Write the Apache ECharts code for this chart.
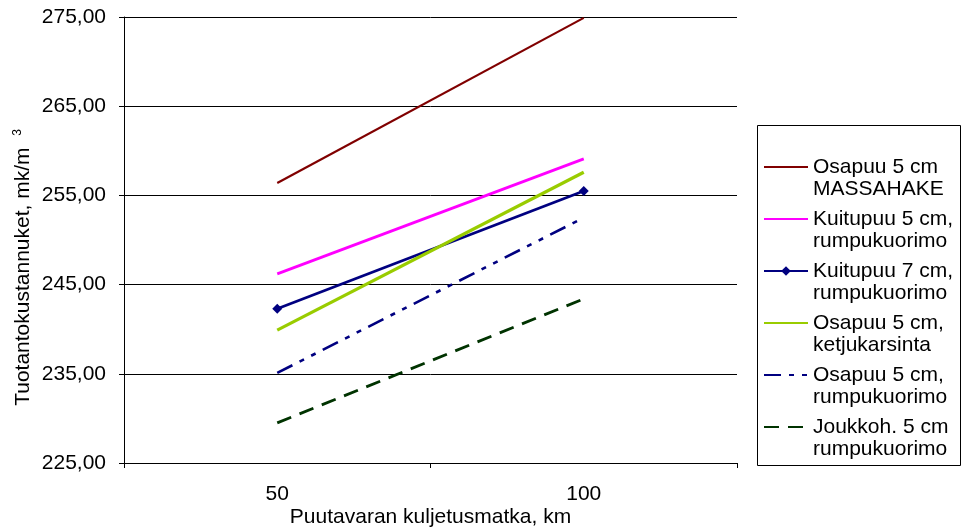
<!DOCTYPE html>
<html>
<head>
<meta charset="utf-8">
<script src="https://cdn.jsdelivr.net/npm/echarts@6/dist/echarts.min.js"></script>
<style>html,body{margin:0;padding:0;background:#fff;}#c{width:963px;height:529px;}</style>
</head>
<body>
<div id="c"></div>
<script>
var categories = ['50', '100'];
var seriesNames = [
  'Osapuu 5 cm\nMASSAHAKE',
  'Kuitupuu 5 cm,\nrumpukuorimo',
  'Kuitupuu 7 cm,\nrumpukuorimo',
  'Osapuu 5 cm,\nketjukarsinta',
  'Osapuu 5 cm,\nrumpukuorimo',
  'Joukkoh. 5 cm\nrumpukuorimo'
];
var massahake = [256.4, 274.9];
var kuitupuu5 = [246.2, 259.1];
var kuitupuu7 = [242.3, 255.5];
var ketjukarsinta = [239.9, 257.6];
var osapuuRumpu = [235.1, 252.5];
var joukkoh = [229.5, 243.4];
var yMin = 225, yMax = 275, yStep = 10;

var FONT = "'Liberation Sans', Arial, sans-serif";
var chart = echarts.init(document.getElementById('c'), null, {renderer: 'canvas'});
function lineSeries(name, data, color, width, type, symbol) {
  return {
    name: name, type: 'line', data: data,
    symbol: symbol || 'none', symbolSize: 10, showSymbol: !!symbol,
    itemStyle: {color: color},
    lineStyle: {color: color, width: width, type: type || 'solid'},
    emphasis: {disabled: true}, animation: false
  };
}
var legendData = seriesNames.map(function (n, i) {
  return i === 2 ? {name: n} : {name: n, itemStyle: {opacity: 0}};
});
chart.setOption({
  animation: false,
  textStyle: {fontFamily: FONT},
  grid: {left: 124, right: 226, top: 17, bottom: 66, outerBoundsMode: 'none', containLabel: false},
  xAxis: {
    type: 'category', data: categories, boundaryGap: true,
    axisLine: {lineStyle: {color: '#000', width: 1}},
    axisTick: {show: true, length: 5, lineStyle: {color: '#000'}},
    axisLabel: {color: '#000', fontSize: 21, fontFamily: FONT, margin: 21},
    name: 'Puutavaran kuljetusmatka, km', nameLocation: 'middle', nameGap: 44,
    nameMoveOverlap: false,
    nameTextStyle: {color: '#000', fontSize: 21, fontFamily: FONT}
  },
  yAxis: {
    type: 'value', min: yMin, max: yMax, interval: yStep,
    axisLine: {show: true, lineStyle: {color: '#000', width: 1}},
    axisTick: {show: true, length: 5, lineStyle: {color: '#000'}},
    splitLine: {show: true, lineStyle: {color: '#000', width: 1}},
    axisLabel: {color: '#000', fontSize: 21, fontFamily: FONT, margin: 18,
      formatter: function (v) { return v.toFixed(2).replace('.', ','); }},
    name: 'Tuotantokustannuket, mk/m  {sup|3}', nameLocation: 'middle', nameGap: 90,
    nameMoveOverlap: false,
    nameTextStyle: {color: '#000', fontSize: 21, fontFamily: FONT, padding: [0, 55, 0, 0],
      rich: {sup: {fontSize: 12, fontFamily: FONT, color: '#000', verticalAlign: 'top', padding: [0, 0, 10, 0]}}}
  },
  legend: {
    orient: 'vertical', left: 763, top: 134, padding: 0,
    itemWidth: 44, itemHeight: 12, itemGap: -14,
    selectedMode: false,
    formatter: function (n) { return ' \n' + n; },
    textStyle: {color: '#000', fontSize: 21, fontFamily: FONT, lineHeight: 22},
    data: legendData
  },
  graphic: [{
    type: 'rect', left: 757, top: 125, z: -1,
    shape: {width: 203, height: 340},
    style: {fill: '#fff', stroke: '#000', lineWidth: 1}
  }],
  series: [
    lineSeries(seriesNames[0], massahake, '#800000', 2.2),
    lineSeries(seriesNames[1], kuitupuu5, '#FF00FF', 2.8),
    lineSeries(seriesNames[2], kuitupuu7, '#000080', 2.8, 'solid', 'diamond'),
    lineSeries(seriesNames[3], ketjukarsinta, '#99CC00', 3.2),
    lineSeries(seriesNames[4], osapuuRumpu, '#000080', 2.6, [17, 8, 5, 8, 5, 8]),
    lineSeries(seriesNames[5], joukkoh, '#003300', 2.8, [15, 9])
  ]
});
</script>
</body>
</html>
